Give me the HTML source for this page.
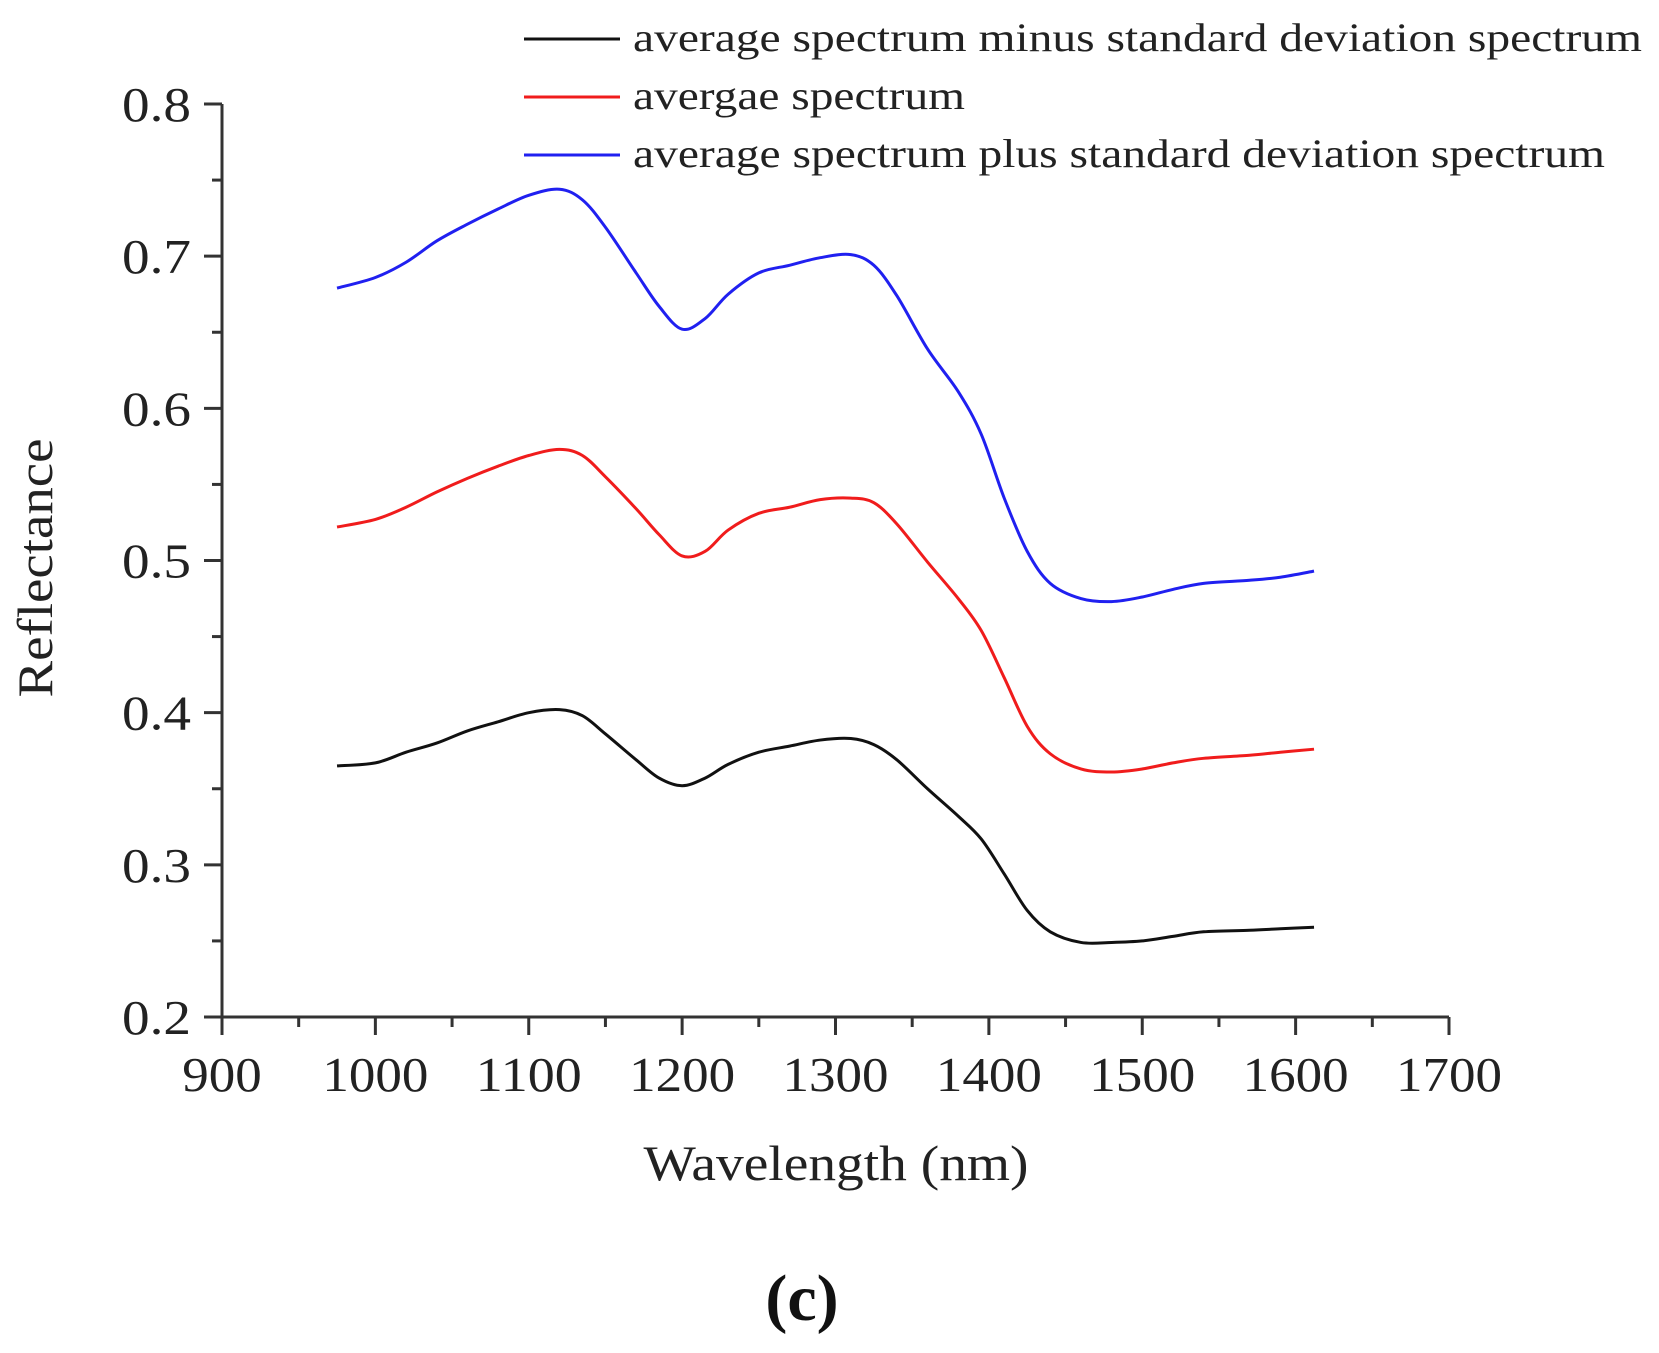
<!DOCTYPE html>
<html><head><meta charset="utf-8"><style>
html,body{margin:0;padding:0;background:#fff;}
svg{display:block;font-family:"Liberation Serif",serif;}
</style></head><body>
<svg id="chart" width="1659" height="1353" viewBox="0 0 1659 1353" xmlns="http://www.w3.org/2000/svg">
<g id="axes"></g>
<g id="series"></g>
<g id="legend"></g>
<text x="836" y="1180" font-size="50" text-anchor="middle" fill="#222" textLength="385" lengthAdjust="spacingAndGlyphs">Wavelength (nm)</text>
<text transform="translate(52,568) rotate(-90)" font-size="50" text-anchor="middle" fill="#222" textLength="259" lengthAdjust="spacingAndGlyphs">Reflectance</text>
<text x="802" y="1320" font-size="66" font-weight="bold" text-anchor="middle" fill="#111">(c)</text>
</svg>
<script>
const wavelengths=[975,1000,1020,1040,1060,1080,1100,1120,1135,1150,1170,1185,1200,1215,1230,1250,1270,1290,1310,1325,1340,1360,1380,1395,1410,1425,1440,1460,1480,1500,1520,1540,1570,1590,1612];
const plusStd=[0.679,0.686,0.696,0.710,0.721,0.731,0.740,0.744,0.737,0.719,0.689,0.667,0.652,0.659,0.675,0.689,0.694,0.699,0.701,0.694,0.674,0.639,0.611,0.583,0.541,0.506,0.485,0.475,0.473,0.476,0.481,0.485,0.487,0.489,0.493];
const average=[0.522,0.527,0.535,0.545,0.554,0.562,0.569,0.573,0.569,0.555,0.534,0.517,0.503,0.506,0.520,0.531,0.535,0.540,0.541,0.538,0.524,0.499,0.475,0.454,0.423,0.391,0.373,0.363,0.361,0.363,0.367,0.370,0.372,0.374,0.376];
const minusStd=[0.365,0.367,0.374,0.380,0.388,0.394,0.400,0.402,0.398,0.386,0.369,0.357,0.352,0.357,0.366,0.374,0.378,0.382,0.383,0.379,0.369,0.350,0.332,0.317,0.294,0.270,0.256,0.249,0.249,0.250,0.253,0.256,0.257,0.258,0.259];
const xTickLabels=["900","1000","1100","1200","1300","1400","1500","1600","1700"];
const yTickLabels=["0.2","0.3","0.4","0.5","0.6","0.7","0.8"];
const legendLabels=["average spectrum minus standard deviation spectrum","avergae spectrum","average spectrum plus standard deviation spectrum"];

const NS="http://www.w3.org/2000/svg";
const X0=222,X1=1449,Y0=1017,Y1=104;
const xs=v=>X0+(v-900)/(1700-900)*(X1-X0);
const ys=v=>Y0-(v-0.2)/(0.8-0.2)*(Y0-Y1);
function mk(tag,attrs,parent){const e=document.createElementNS(NS,tag);for(const k in attrs)e.setAttribute(k,attrs[k]);parent.appendChild(e);return e;}
const axes=document.getElementById('axes');
const ax=mk('line',{x1:X0,y1:Y0,x2:X1,y2:Y0,stroke:'#333','stroke-width':3},axes);


const ay=mk('line',{x1:X0,y1:Y0,x2:X0,y2:Y1,stroke:'#333','stroke-width':3},axes);


for(let v=900;v<=1700;v+=50){
  const major=(v%100===0);
  const t=mk('line',{x1:xs(v),y1:Y0,x2:xs(v),y2:Y0+(major?18:10),stroke:'#333','stroke-width':3},axes);
  
  
}
xTickLabels.forEach(s=>{
  const t=mk('text',{x:xs(+s),y:1091,'font-size':49,'text-anchor':'middle',fill:'#222',textLength:s.length*26.5,lengthAdjust:'spacingAndGlyphs'},axes);
  t.textContent=s;
  
  
});
for(let i=0;i<=12;i++){
  const v=0.2+i*0.05;
  const major=(i%2===0);
  const t=mk('line',{x1:X0-(major?18:10),y1:ys(v),x2:X0,y2:ys(v),stroke:'#333','stroke-width':3},axes);
  
  
}
yTickLabels.forEach(s=>{
  const t=mk('text',{x:122,y:ys(+s)+17,'font-size':49,fill:'#222',textLength:69,lengthAdjust:'spacingAndGlyphs'},axes);
  t.textContent=s;
  
  
});
const ser=document.getElementById('series');
const defs=[[minusStd,'#111','minus-std-line'],[average,'#f01c1c','average-line'],[plusStd,'#2020f0','plus-std-line']];
defs.forEach(([arr,col,name])=>{
  const pts=arr.map((v,i)=>[xs(wavelengths[i]),ys(v)]);
  let d='M'+pts[0][0]+','+pts[0][1];
  for(let i=0;i<pts.length-1;i++){
    const p0=pts[Math.max(0,i-1)],p1=pts[i],p2=pts[i+1],p3=pts[Math.min(pts.length-1,i+2)];
    const c1=[p1[0]+(p2[0]-p0[0])/6,p1[1]+(p2[1]-p0[1])/6];
    const c2=[p2[0]-(p3[0]-p1[0])/6,p2[1]-(p3[1]-p1[1])/6];
    d+=` C${c1[0]},${c1[1]} ${c2[0]},${c2[1]} ${p2[0]},${p2[1]}`;
  }
  const p=mk('path',{d:d,fill:'none',stroke:col,'stroke-width':3},ser);
  
  
});
const leg=document.getElementById('legend');
const legCols=['#111','#f01c1c','#2020f0'];
const legLens=[1009,332,972];
legendLabels.forEach((s,i)=>{
  const y=39+i*58;
  const l=mk('line',{x1:524,y1:y,x2:620,y2:y,stroke:legCols[i],'stroke-width':3},leg);
  
  
  const t=mk('text',{x:633,y:y+12,'font-size':40,fill:'#222',textLength:legLens[i],lengthAdjust:'spacingAndGlyphs'},leg);
  t.textContent=s;
  
  
});
</script>
</body></html>
